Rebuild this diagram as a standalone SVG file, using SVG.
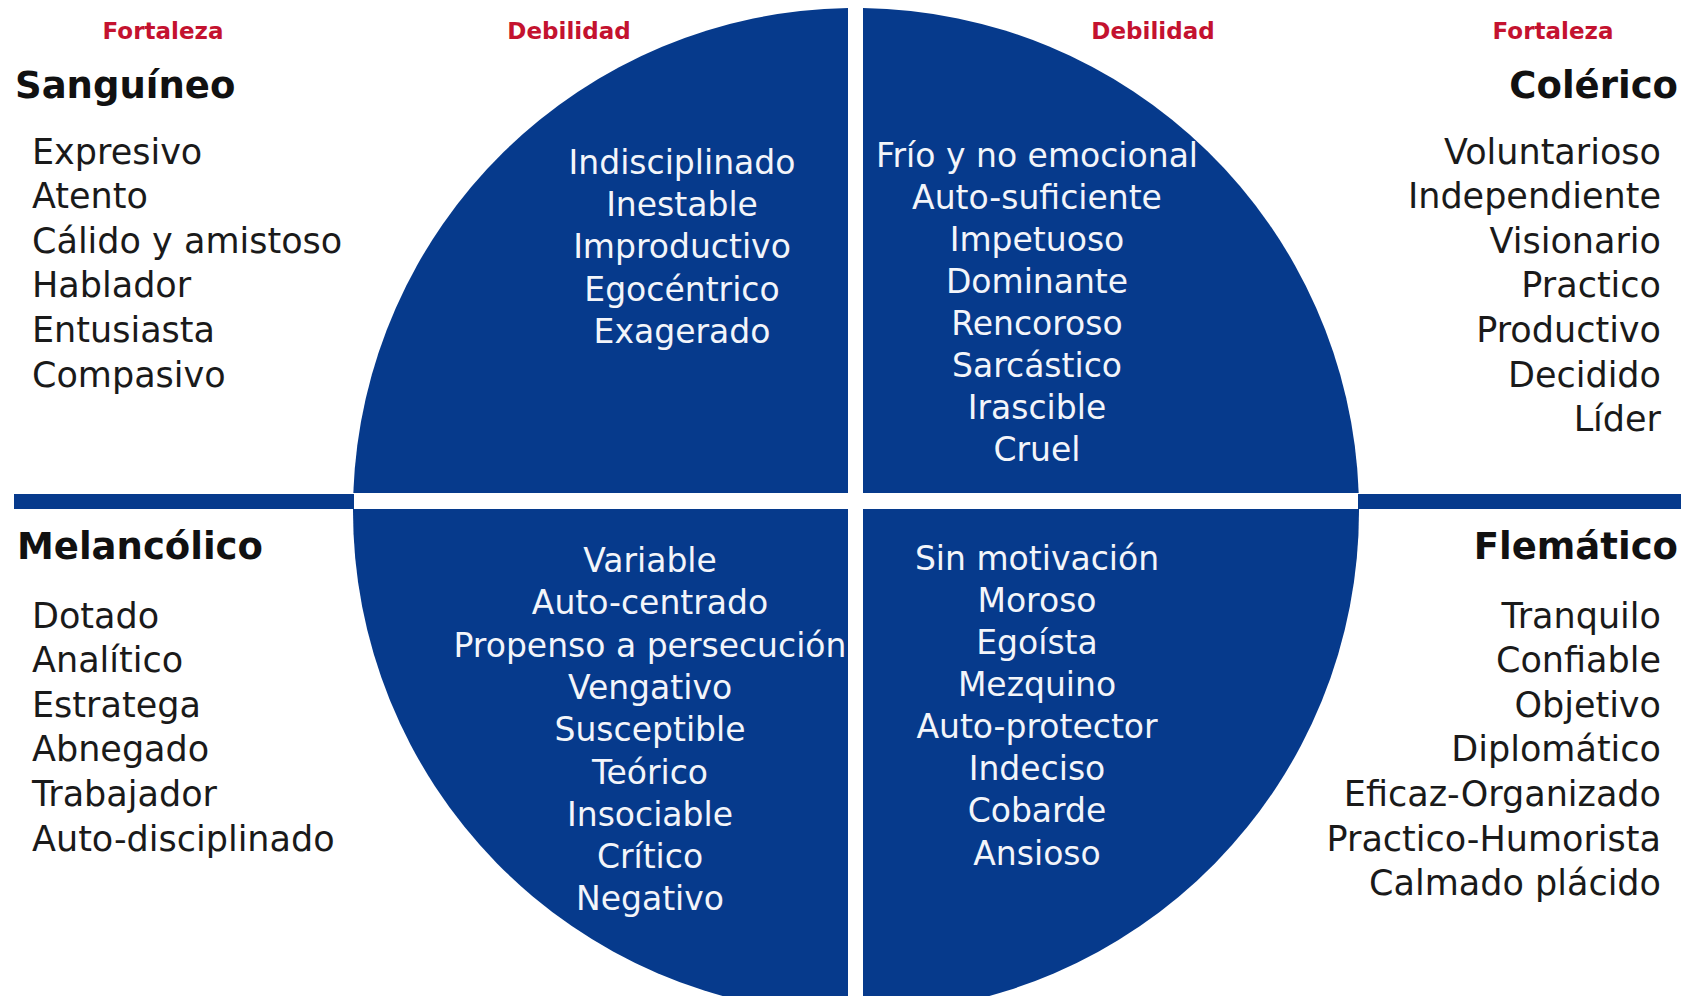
<svg xmlns="http://www.w3.org/2000/svg" width="1689" height="996" viewBox="0 0 1689 996">
<style>
.hdr{font-family:"DejaVu Sans",sans-serif;font-weight:bold;font-size:23px;fill:#c4122f;text-anchor:middle}
.ttl{font-family:"DejaVu Sans",sans-serif;font-weight:bold;font-size:37px;fill:#111}
.lst{font-family:"DejaVu Sans",sans-serif;font-size:35px;fill:#1a1a1a}
.inn{font-family:"DejaVu Sans",sans-serif;font-size:33px;fill:#f3f5fa;text-anchor:middle}
.q{fill:#063a8c}
.end{text-anchor:end}
</style>
<rect width="1689" height="996" fill="#fff"/>

<g id="headers">
<text class="hdr" x="163" y="39">Fortaleza</text>
<text class="hdr" x="569" y="39">Debilidad</text>
<text class="hdr" x="1153" y="39">Debilidad</text>
<text class="hdr" x="1553" y="39">Fortaleza</text>
</g>

<g id="q-sanguineo">
<path class="q" d="M848,8.06 A503,503 0 0 0 353.3,493 L848,493 Z"/>
<text class="inn" x="682" y="174">Indisciplinado</text>
<text class="inn" x="682" y="216">Inestable</text>
<text class="inn" x="682" y="258">Improductivo</text>
<text class="inn" x="682" y="301">Egocéntrico</text>
<text class="inn" x="682" y="343">Exagerado</text>
</g>

<g id="q-colerico">
<path class="q" d="M863,8.05 A503,503 0 0 1 1358.7,493 L863,493 Z"/>
<text class="inn" x="1037" y="167">Frío y no emocional</text>
<text class="inn" x="1037" y="209">Auto-suficiente</text>
<text class="inn" x="1037" y="251">Impetuoso</text>
<text class="inn" x="1037" y="293">Dominante</text>
<text class="inn" x="1037" y="335">Rencoroso</text>
<text class="inn" x="1037" y="377">Sarcástico</text>
<text class="inn" x="1037" y="419">Irascible</text>
<text class="inn" x="1037" y="461">Cruel</text>
</g>

<g id="q-melancolico">
<path class="q" d="M353,509 A503,503 0 0 0 848,1013.94 L848,509 Z"/>
<text class="inn" x="650" y="572">Variable</text>
<text class="inn" x="650" y="614">Auto-centrado</text>
<text class="inn" x="650" y="657">Propenso a persecución</text>
<text class="inn" x="650" y="699">Vengativo</text>
<text class="inn" x="650" y="741">Susceptible</text>
<text class="inn" x="650" y="784">Teórico</text>
<text class="inn" x="650" y="826">Insociable</text>
<text class="inn" x="650" y="868">Crítico</text>
<text class="inn" x="650" y="910">Negativo</text>
</g>

<g id="q-flematico">
<path class="q" d="M863,509 L1359,509 A503,503 0 0 1 863,1013.95 Z"/>
<text class="inn" x="1037" y="570">Sin motivación</text>
<text class="inn" x="1037" y="612">Moroso</text>
<text class="inn" x="1037" y="654">Egoísta</text>
<text class="inn" x="1037" y="696">Mezquino</text>
<text class="inn" x="1037" y="738">Auto-protector</text>
<text class="inn" x="1037" y="780">Indeciso</text>
<text class="inn" x="1037" y="822">Cobarde</text>
<text class="inn" x="1037" y="865">Ansioso</text>
</g>

<g id="connectors">
<rect class="q" x="14" y="494" width="340" height="15"/>
<rect class="q" x="1358" y="494" width="323" height="15"/>
</g>

<g id="sanguineo">
<text class="ttl" x="15" y="98">Sanguíneo</text>
<text class="lst" x="32" y="164">Expresivo</text>
<text class="lst" x="32" y="208">Atento</text>
<text class="lst" x="32" y="253">Cálido y amistoso</text>
<text class="lst" x="32" y="297">Hablador</text>
<text class="lst" x="32" y="342">Entusiasta</text>
<text class="lst" x="32" y="387">Compasivo</text>
</g>

<g id="colerico">
<text class="ttl end" x="1678" y="98">Colérico</text>
<text class="lst end" x="1661" y="164">Voluntarioso</text>
<text class="lst end" x="1661" y="208">Independiente</text>
<text class="lst end" x="1661" y="253">Visionario</text>
<text class="lst end" x="1661" y="297">Practico</text>
<text class="lst end" x="1661" y="342">Productivo</text>
<text class="lst end" x="1661" y="387">Decidido</text>
<text class="lst end" x="1661" y="431">Líder</text>
</g>

<g id="melancolico">
<text class="ttl" x="17" y="559">Melancólico</text>
<text class="lst" x="32" y="628">Dotado</text>
<text class="lst" x="32" y="672">Analítico</text>
<text class="lst" x="32" y="717">Estratega</text>
<text class="lst" x="32" y="761">Abnegado</text>
<text class="lst" x="32" y="806">Trabajador</text>
<text class="lst" x="32" y="851">Auto-disciplinado</text>
</g>

<g id="flematico">
<text class="ttl end" x="1678" y="559">Flemático</text>
<text class="lst end" x="1661" y="628">Tranquilo</text>
<text class="lst end" x="1661" y="672">Confiable</text>
<text class="lst end" x="1661" y="717">Objetivo</text>
<text class="lst end" x="1661" y="761">Diplomático</text>
<text class="lst end" x="1661" y="806">Eficaz-Organizado</text>
<text class="lst end" x="1661" y="851">Practico-Humorista</text>
<text class="lst end" x="1661" y="895">Calmado plácido</text>
</g>
</svg>
